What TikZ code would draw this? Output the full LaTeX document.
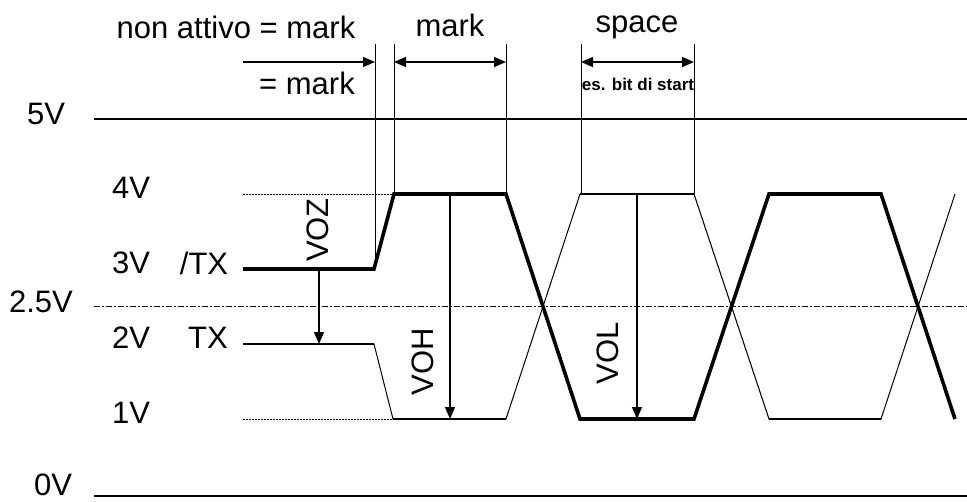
\documentclass[tikz,border=0pt]{standalone}
\usepackage{fontspec}
\setmainfont{Liberation Sans}
\usetikzlibrary{arrows.meta}
\begin{document}
\begin{tikzpicture}[x=1pt,y=-1pt,
  lbl/.style={font=\fontsize{31}{37}\selectfont, inner sep=0pt},
  sml/.style={font=\fontsize{17}{20}\selectfont\bfseries, inner sep=0pt},
  rail/.style={line width=2pt},
  ddash/.style={line width=1pt, dash pattern=on 6pt off 2pt on 2pt off 2pt},
  dotln/.style={line width=1pt, dash pattern=on 2pt off 1pt},
  thinw/.style={line width=1pt},
  flatw/.style={line width=2.6pt},
  thickw/.style={line width=3.6pt, line join=miter},
  guide/.style={line width=1pt},
  arr/.style={line width=1.2pt,-{Triangle[length=12pt,width=10pt]}},
  darr/.style={line width=1.6pt,{Triangle[length=12pt,width=10pt]}-{Triangle[length=12pt,width=10pt]}},
]
\useasboundingbox (0,0) rectangle (967,501);

% rails
\coordinate (r5a) at (94,119); \coordinate (r5b) at (967,119);
\coordinate (r0a) at (94,496); \coordinate (r0b) at (967,496);
\coordinate (r25a) at (94,306.5); \coordinate (r25b) at (967,306.5);
\coordinate (r4a) at (243,194); \coordinate (r4b) at (394,194);
\coordinate (r1a) at (243,419); \coordinate (r1b) at (393,419);
\draw[rail] (r5a) -- (r5b);
\draw[rail] (r0a) -- (r0b);
\draw[ddash] (r25a) -- (r25b);
\draw[dotln] (r4a) -- (r4b);
\draw[dotln] (r1a) -- (r1b);

% level labels
\node[lbl] (l5) at (46,114) {5V};
\node[lbl] (l4) at (131,188) {4V};
\node[lbl] (l3) at (131,263) {3V};
\node[lbl] (ltxn) at (204,263) {/TX};
\node[lbl] (l25) at (41,302) {2.5V};
\node[lbl] (l2) at (131,338) {2V};
\node[lbl] (ltx) at (208,338) {TX};
\node[lbl] (l1) at (131,413) {1V};
\node[lbl] (l0) at (53,485) {0V};

% /TX waveform (thick)
\coordinate (a0) at (243,269); \coordinate (a1) at (374,269);
\coordinate (a2) at (394,194); \coordinate (a3) at (506,194);
\coordinate (a4) at (580,419); \coordinate (a5) at (694,419);
\coordinate (a6) at (769,194); \coordinate (a7) at (881,194);
\coordinate (a8) at (955,419);
\draw[thickw] (a0) -- (a1) -- (a2) -- (a3) -- (a4) -- (a5) -- (a6) -- (a7) -- (a8);

% TX waveform (thin slopes, medium flats)
\coordinate (b0) at (243,344); \coordinate (b1) at (374,344);
\coordinate (b2) at (393,419); \coordinate (b3) at (506,419);
\coordinate (b4) at (580,194); \coordinate (b5) at (694,194);
\coordinate (b6) at (769,419); \coordinate (b7) at (881,419);
\coordinate (b8) at (955,194);
\draw[thinw] (b0) -- (b1) -- (b2) -- (b3) -- (b4) -- (b5) -- (b6) -- (b7) -- (b8);
\draw[flatw] (b0) -- (b1);
\draw[flatw] (b2) -- (b3);
\draw[flatw] (b4) -- (b5);
\draw[flatw] (b6) -- (b7);

% vertical guides
\coordinate (g1t) at (375,44); \coordinate (g1b) at (375,269);
\coordinate (g2t) at (394,44); \coordinate (g2b) at (394,194);
\coordinate (g3t) at (506,44); \coordinate (g3b) at (506,194);
\coordinate (g4t) at (581,44); \coordinate (g4b) at (581,194);
\coordinate (g5t) at (694,44); \coordinate (g5b) at (694,194);
\draw[guide] (g1t) -- (g1b);
\draw[guide] (g2t) -- (g2b);
\draw[guide] (g3t) -- (g3b);
\draw[guide] (g4t) -- (g4b);
\draw[guide] (g5t) -- (g5b);

% top arrows
\coordinate (m0s) at (243,62); \coordinate (m0e) at (375,62);
\coordinate (m1s) at (394,62); \coordinate (m1e) at (506,62);
\coordinate (m2s) at (581,62); \coordinate (m2e) at (694,62);
\draw[arr] (m0s) -- (m0e);
\draw[darr] (m1s) -- (m1e);
\draw[darr] (m2s) -- (m2e);

% top labels
\node[lbl] (tna) at (236,27) {non attivo = mark};
\node[lbl] (teq) at (307,83) {= mark};
\node[lbl] (tmk) at (450,25) {mark};
\node[lbl] (tsp) at (637,27) {space};
\node[sml] (tbs) at (638,84) {es. bit di start};

% voltage arrows
\coordinate (vz1) at (319,269); \coordinate (vz2) at (319,344);
\coordinate (vh1) at (450,194); \coordinate (vh2) at (450,419);
\coordinate (vl1) at (637,194); \coordinate (vl2) at (637,419);
\draw[arr] (vz1) -- (vz2);
\draw[arr] (vh1) -- (vh2);
\draw[arr] (vl1) -- (vl2);

\node[lbl, rotate=90] (voz) at (318,230) {VOZ};
\node[lbl, rotate=90] (voh) at (423,362) {VOH};
\node[lbl, rotate=90] (vol) at (608,353) {VOL};
\end{tikzpicture}
\end{document}
